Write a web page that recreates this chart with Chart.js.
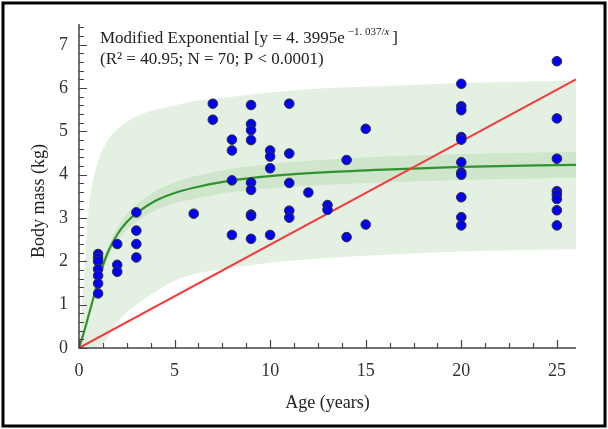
<!DOCTYPE html>
<html>
<head>
<meta charset="utf-8">
<script src="https://cdn.jsdelivr.net/npm/chart.js@4.4.1/dist/chart.umd.min.js"></script>
<style>
  html, body { margin: 0; padding: 0; background: #fff; }
  #wrap { width: 608px; height: 429px; position: relative; }
  canvas { display: block; }
</style>
</head>
<body>
<div id="wrap"><canvas id="chart" width="608" height="429" style="width:608px;height:429px"></canvas></div>
<script>
// Observed animals (age in years, body mass in kg)
const pointAge = [
  1, 1, 1, 1, 1, 1, 1,
  2, 2, 2,
  3, 3, 3, 3,
  6,
  7, 7,
  8, 8, 8, 8,
  9, 9, 9, 9, 9, 9, 9, 9, 9,
  10, 10, 10, 10,
  11, 11, 11, 11, 11,
  12,
  13, 13,
  14, 14,
  15, 15,
  20, 20, 20, 20, 20, 20, 20, 20, 20, 20, 20,
  25, 25, 25, 25, 25, 25, 25, 25
];
const pointMass = [
  2.17, 2.08, 2.00, 1.82, 1.67, 1.49, 1.26,
  2.40, 1.92, 1.76,
  3.13, 2.71, 2.40, 2.09,
  3.10,
  5.64, 5.27,
  4.81, 4.56, 3.87, 2.61,
  5.61, 5.17, 5.03, 4.80, 3.82, 3.65, 3.08, 3.05, 2.52,
  4.56, 4.42, 4.15, 2.61,
  5.64, 4.49, 3.81, 3.17, 3.01,
  3.59,
  3.30, 3.19,
  4.34, 2.56,
  5.06, 2.85,
  6.10, 5.58, 5.49, 4.87, 4.81, 4.29, 4.05, 4.00, 3.48, 3.02, 2.83,
  6.62, 5.30, 4.37, 3.62, 3.54, 3.44, 3.18, 2.83
];

// Fitted curve, confidence band and prediction band
const curveAge   = [0, 0.25, 0.5, 0.75, 1, 1.5, 2, 2.5, 3, 4, 5, 6, 8, 10, 13, 16, 20, 26];
const fitMass    = [0, 0.35, 0.75, 1.15, 1.56, 2.20, 2.62, 2.91, 3.11, 3.40, 3.58, 3.70, 3.87, 3.97, 4.06, 4.12, 4.18, 4.23];
const ciUpper    = [0, 0.38, 0.82, 1.24, 1.66, 2.33, 2.77, 3.09, 3.31, 3.62, 3.82, 3.96, 4.14, 4.25, 4.35, 4.42, 4.48, 4.53];
const ciLower    = [0, 0.32, 0.68, 1.06, 1.46, 2.07, 2.47, 2.73, 2.91, 3.18, 3.34, 3.44, 3.60, 3.69, 3.77, 3.82, 3.88, 3.93];
const piUpper    = [0, 1.60, 3.20, 3.90, 4.30, 4.80, 5.05, 5.22, 5.35, 5.50, 5.60, 5.70, 5.80, 5.90, 6.00, 6.05, 6.12, 6.17];
const piLower    = [0, 0, 0, 0, 0, 0.25, 0.60, 0.82, 1.00, 1.30, 1.55, 1.70, 1.85, 1.97, 2.08, 2.15, 2.23, 2.28];

// straight reference line
const refAge  = [0, 26];
const refMass = [0, 6.2];

// tick labels
const xTickValues = [0, 5, 10, 15, 20, 25];
const yTickValues = [0, 1, 2, 3, 4, 5, 6, 7];

const xy = (xs, ys) => xs.map((x, i) => ({ x: x, y: ys[i] }));

const serif = "'Liberation Serif', 'DejaVu Serif', serif";

// Inward ticks, axis lines, titles and the outer box
const framePlugin = {
  id: 'frame',
  afterDraw(chart) {
    const ctx = chart.ctx;
    const xs = chart.scales.x;
    const ys = chart.scales.y;
    const a = chart.chartArea;
    ctx.save();

    ctx.strokeStyle = '#444';
    ctx.lineWidth = 1.5;
    ctx.beginPath();
    ctx.moveTo(a.left, a.top);
    ctx.lineTo(a.left, a.bottom);
    ctx.lineTo(a.right, a.bottom);
    ctx.stroke();

    ctx.lineWidth = 1.2;
    ctx.beginPath();
    for (let i = 0; i <= 37; i++) {
      const v = i * 0.2;
      const py = Math.round(ys.getPixelForValue(v)) + 0.5;
      const len = (i % 5 === 0) ? 8 : 5;
      ctx.moveTo(a.left, py);
      ctx.lineTo(a.left + len, py);
    }
    for (let i = 0; i <= 20; i++) {
      const v = i * 1.25;
      const px = Math.round(xs.getPixelForValue(v)) + 0.5;
      const len = (i % 4 === 0) ? 8 : 5;
      ctx.moveTo(px, a.bottom);
      ctx.lineTo(px, a.bottom - len);
    }
    ctx.stroke();

    // axis titles
    ctx.fillStyle = '#222';
    ctx.font = '18px ' + serif;
    ctx.textAlign = 'center';
    ctx.textBaseline = 'middle';
    ctx.fillText('Age (years)', (a.left + a.right) / 2, 403);
    ctx.save();
    ctx.translate(39, 201);
    ctx.rotate(-Math.PI / 2);
    ctx.fillText('Body mass (kg)', 0, 0);
    ctx.restore();

    // model annotation
    ctx.textAlign = 'left';
    ctx.textBaseline = 'alphabetic';
    ctx.font = '17px ' + serif;
    let tx = 100;
    const line1 = 'Modified Exponential [y = 4. 3995e';
    ctx.fillText(line1, tx, 43);
    tx += ctx.measureText(line1).width + 3;
    ctx.font = '11px ' + serif;
    const sup = '\u22121. 037/';
    ctx.fillText(sup, tx, 35);
    tx += ctx.measureText(sup).width;
    ctx.font = 'italic 11px ' + serif;
    ctx.fillText('x', tx, 35);
    tx += ctx.measureText('x').width + 3;
    ctx.font = '17px ' + serif;
    ctx.fillText(']', tx, 43);
    ctx.fillText('(R\u00b2 = 40.95; N = 70; P < 0.0001)', 100, 64);

    // outer box
    ctx.strokeStyle = '#000';
    ctx.lineWidth = 3;
    ctx.strokeRect(3, 3, chart.width - 6, chart.height - 6);
    ctx.restore();
  }
};

const lineBase = { pointRadius: 0, borderWidth: 0, cubicInterpolationMode: 'monotone' };

new Chart(document.getElementById('chart'), {
  type: 'line',
  data: {
    datasets: [
      Object.assign({}, lineBase, { label: 'pi upper', data: xy(curveAge, piUpper), fill: '+1', backgroundColor: '#e4f1e2', order: 6 }),
      Object.assign({}, lineBase, { label: 'pi lower', data: xy(curveAge, piLower), fill: false, order: 6 }),
      Object.assign({}, lineBase, { label: 'ci upper', data: xy(curveAge, ciUpper), fill: '+1', backgroundColor: '#cfe5cc', order: 5 }),
      Object.assign({}, lineBase, { label: 'ci lower', data: xy(curveAge, ciLower), fill: false, order: 5 }),
      Object.assign({}, lineBase, { label: 'fit', data: xy(curveAge, fitMass), fill: false, borderColor: '#2f9430', borderWidth: 2.2, order: 3 }),
      { label: 'ref', data: xy(refAge, refMass), fill: false, borderColor: '#f23b3b', borderWidth: 2, pointRadius: 0, order: 2 },
      { type: 'scatter', label: 'obs', data: xy(pointAge, pointMass), pointRadius: 4.8, pointBorderWidth: 1,
        pointBackgroundColor: '#0000f5', pointBorderColor: '#333', showLine: false, order: 1 }
    ]
  },
  options: {
    responsive: false,
    animation: false,
    devicePixelRatio: 1,
    layout: { padding: { left: 0, right: 32, top: 24, bottom: 0 } },
    plugins: { legend: { display: false }, tooltip: { enabled: false } },
    scales: {
      x: {
        type: 'linear', min: 0, max: 26,
        grid: { display: false }, border: { display: false },
        ticks: { autoSkip: false, padding: 4, color: '#333', font: { family: serif, size: 18 }, maxRotation: 0 },
        afterBuildTicks: s => { s.ticks = xTickValues.map(v => ({ value: v })); },
        afterFit: s => { s.height = 81; }
      },
      y: {
        type: 'linear', min: 0, max: 7.48,
        grid: { display: false }, border: { display: false },
        ticks: { autoSkip: false, padding: 3, color: '#333', font: { family: serif, size: 18 } },
        afterBuildTicks: s => { s.ticks = yTickValues.map(v => ({ value: v })); },
        afterFit: s => { s.width = 79; }
      }
    }
  },
  plugins: [framePlugin]
});
</script>
</body>
</html>
